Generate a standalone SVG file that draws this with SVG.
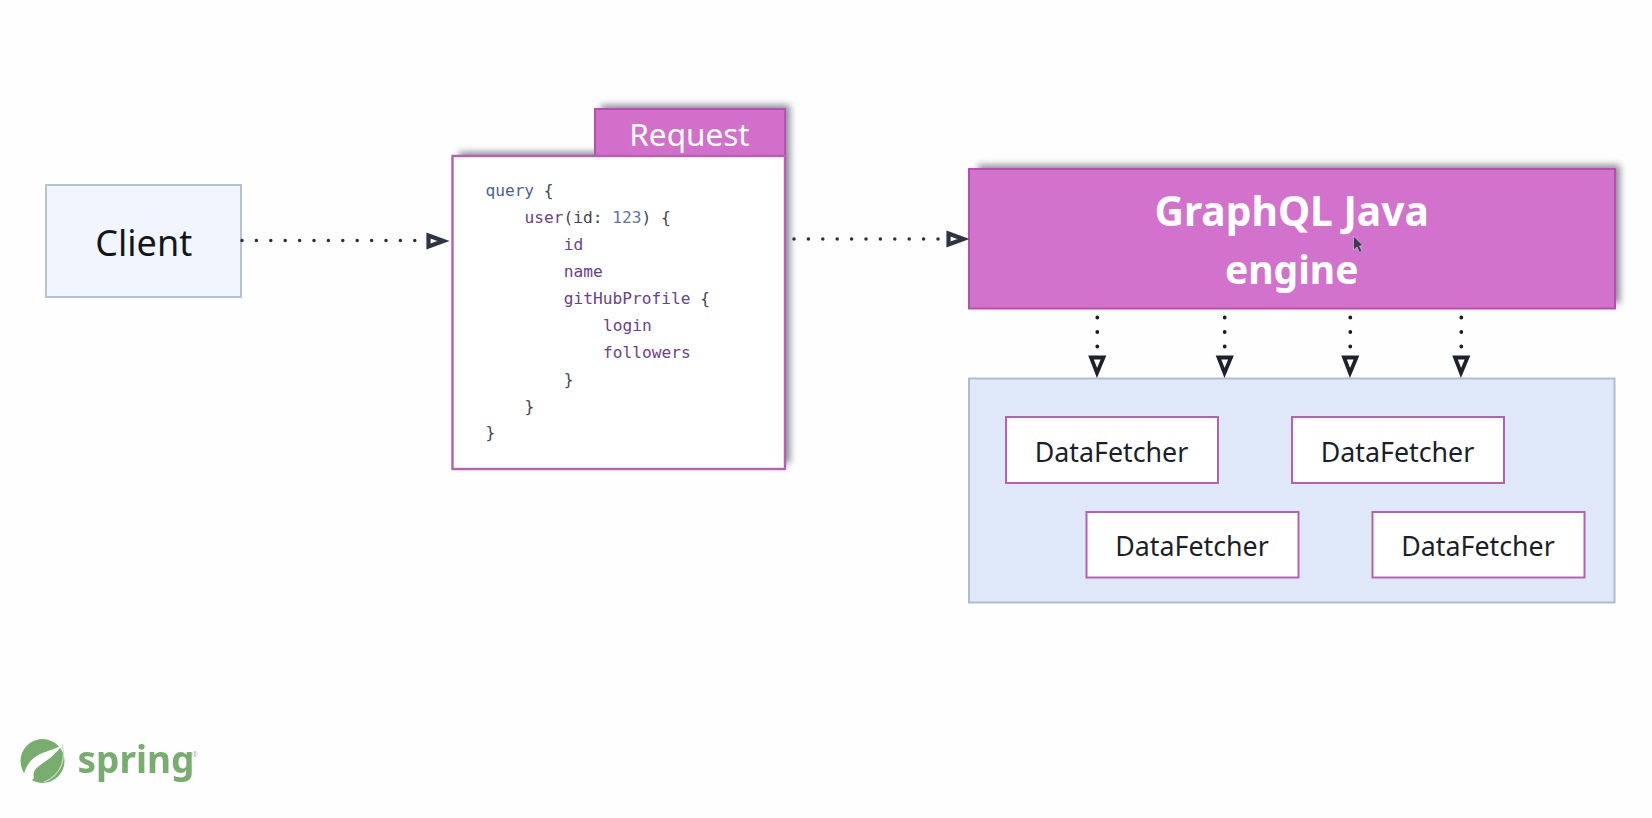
<svg xmlns="http://www.w3.org/2000/svg" width="1652" height="818" viewBox="0 0 1652 818">
<style>
.t{font-family:"Noto Sans","Open Sans",sans-serif}
.df{fill:#fff;stroke:#b660b2;stroke-width:2}
.dft{font-size:26.800px;fill:#1b1f2a;text-anchor:middle}
.c{font-family:"DejaVu Sans Mono","Liberation Mono",monospace;font-size:16.200px;fill:#6b4189}
.k{fill:#4d5f95}.n{fill:#5c74b5}.p{fill:#454552}
.conn{fill:none;stroke:#2a2e38;stroke-width:3.500;stroke-linecap:round;stroke-dasharray:0 14.400}
.vconn{fill:none;stroke:#1a1d26;stroke-width:3.800;stroke-linecap:round;stroke-dasharray:0 14.500}
.head{fill:#fff;stroke:#2f3442;stroke-width:4.200;stroke-linejoin:miter}
.vhead{fill:#fff;stroke:#1e212c;stroke-width:3.800;stroke-linejoin:miter}
.sh{fill:#5a5f6e;opacity:.72}
</style>
<defs>
<filter id="sh" x="-10%" y="-20%" width="120%" height="140%"><feGaussianBlur stdDeviation="3.500"/></filter>
<filter id="soft" x="-5%" y="-5%" width="110%" height="110%"><feGaussianBlur stdDeviation="0.500"/></filter>
</defs>
<rect width="1652" height="818" fill="#fefefe"/>
<g id="client">
<rect x="46" y="185" width="195" height="112" fill="#f1f5fd" stroke="#b4c2d6" stroke-width="2"/>
<text class="t" x="143.700" y="255.500" font-size="36" fill="#14161c" text-anchor="middle">Client</text>
</g>
<g id="request">
<path class="sh" filter="url(#sh)" d="M459 152H601V105H790V463H459Z"/>
<rect x="595" y="109" width="190" height="47" fill="#d16fca" stroke="#b84fb0" stroke-width="2"/>
<rect x="452.500" y="156" width="332.500" height="313" fill="#fff" stroke="#b660b2" stroke-width="2.400"/>
<text class="t" x="689.500" y="146" font-size="31.500" fill="#fff" text-anchor="middle">Request</text>
<text class="c" x="485.400" y="196"><tspan class="k">query</tspan><tspan class="p"> {</tspan></text>
<text class="c" x="524.600" y="223">user<tspan class="p">(id: </tspan><tspan class="n">123</tspan><tspan class="p">) {</tspan></text>
<text class="c" x="563.800" y="250">id</text>
<text class="c" x="563.800" y="277">name</text>
<text class="c" x="563.800" y="304">gitHubProfile<tspan class="p"> {</tspan></text>
<text class="c" x="603" y="331">login</text>
<text class="c" x="603" y="358">followers</text>
<text class="c p" x="563.800" y="385">}</text>
<text class="c p" x="524.600" y="412">}</text>
<text class="c p" x="485.400" y="438">}</text>
</g>
<g id="engine">
<rect class="sh" filter="url(#sh)" x="978" y="165" width="642" height="138"/>
<rect x="969" y="169" width="646" height="139.500" fill="#d272cc" stroke="#b84fb0" stroke-width="2"/>
<text class="t" x="1291.700" y="226" font-size="40.700" font-weight="700" fill="#fff" text-anchor="middle">GraphQL Java</text>
<text class="t" x="1291.700" y="284" font-size="39" font-weight="700" fill="#fff" text-anchor="middle">engine</text>
<path id="cursor" d="M1353.500 236V250L1357 247L1359.500 252.500L1362 251L1359.500 246L1363 245.500Z" fill="#3c3c46" stroke="#e8d0e8" stroke-width=".6"/>
</g>
<g id="datafetchers">
<rect x="969" y="378.500" width="645.500" height="224" fill="#dfe8f8" stroke="#aebcd2" stroke-width="2"/>
</g>
<g id="df1"><rect class="df" x="1006" y="417" width="212" height="66"/><text class="t dft" x="1111.500" y="461.500">DataFetcher</text></g>
<g id="df2"><rect class="df" x="1292" y="417" width="212" height="66"/><text class="t dft" x="1397.500" y="461.500">DataFetcher</text></g>
<g id="df3"><rect class="df" x="1086.500" y="512" width="212" height="65.500"/><text class="t dft" x="1192" y="556">DataFetcher</text></g>
<g id="df4"><rect class="df" x="1372.500" y="512" width="212" height="65.500"/><text class="t dft" x="1478" y="556">DataFetcher</text></g>
<g id="connectors">
<path class="conn" d="M242 240.500H416"/>
<path class="head" d="M428.500 235.500L443.500 241L428.500 246.500Z"/>
<path class="conn" d="M794 239H940"/>
<path class="head" d="M948.500 233.500L963.500 239L948.500 244.500Z"/>
<path class="vconn" d="M1097.300 317.500V350"/>
<path class="vhead" d="M1091 357.500H1103.500L1097 373Z"/>
<path class="vconn" d="M1224.700 317.500V350"/>
<path class="vhead" d="M1218.500 357.500H1231L1224.500 373Z"/>
<path class="vconn" d="M1350.300 317.500V350"/>
<path class="vhead" d="M1344 357.500H1356.500L1350 373Z"/>
<path class="vconn" d="M1461.300 317.500V350"/>
<path class="vhead" d="M1455 357.500H1467.500L1461 373Z"/>
</g>
<g id="logo" filter="url(#soft)">
<circle cx="42.500" cy="761" r="22" fill="#78ae6d"/>
<path d="M62 744C66 758 62 775 44 782" fill="none" stroke="#cfdccb" stroke-width="1.200"/>
<path d="M62 745C50 753 30 751 24 774C26 778 29 780 31 781L34 778C30 765 50 764 62 745Z" fill="#fff"/>
<text x="77.500" y="773" font-family="Noto Sans,sans-serif" font-weight="700" font-size="37" fill="#78ae6d">spring</text>
<text x="192" y="757" font-family="Noto Sans,sans-serif" font-size="7" fill="#b4b4b4">®</text>
</g>
</svg>
